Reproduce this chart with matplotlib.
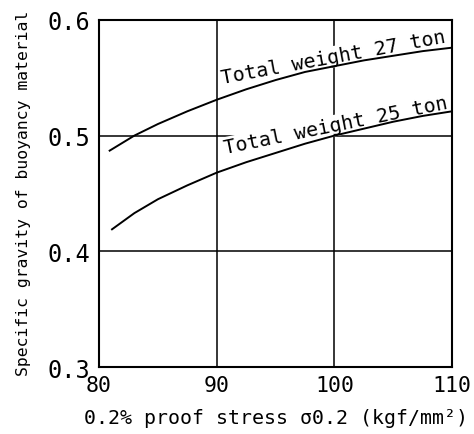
import matplotlib
matplotlib.use("Agg")
import matplotlib.pyplot as plt
import numpy as np

# data
stress_27 = [80.9, 83.0, 85.0, 87.5, 90.0, 92.5, 95.0, 97.5, 100.0, 102.5, 105.0, 107.5, 110.0]
grav_27   = [0.487, 0.500, 0.510, 0.521, 0.531, 0.540, 0.548, 0.555, 0.560, 0.565, 0.569, 0.573, 0.576]
stress_25 = [81.1, 83.0, 85.0, 87.5, 90.0, 92.5, 95.0, 97.5, 100.0, 102.5, 105.0, 107.5, 110.0]
grav_25   = [0.419, 0.433, 0.445, 0.457, 0.468, 0.477, 0.485, 0.493, 0.500, 0.506, 0.512, 0.517, 0.521]
label_27 = "Total weight 27 ton"
label_25 = "Total weight 25 ton"
xticks = [80, 90, 100, 110]
yticks = [0.3, 0.4, 0.5, 0.6]
ytick_labels = ["0.3", "0.4", "0.5", "0.6"]
xlabel = "0.2% proof stress σ0.2 (kgf/mm²)"
ylabel = "Specific gravity of buoyancy material"

mono = ["DejaVu Sans Mono"]
fig = plt.figure(figsize=(4.74, 4.35), dpi=100)
ax = fig.add_axes([0.209, 0.154, 0.745, 0.798])
ax.set_xlim(80, 110)
ax.set_ylim(0.3, 0.6)

for xv in [90, 100]:
    ax.axvline(xv, color="black", lw=1.1, zorder=1)
for yv in [0.4, 0.5]:
    ax.axhline(yv, color="black", lw=1.1, zorder=1)

ax.plot(stress_27, grav_27, color="black", lw=1.4, zorder=3)
ax.plot(stress_25, grav_25, color="black", lw=1.4, zorder=3)

bb = dict(facecolor="white", edgecolor="none", pad=0.8)
ax.text(90.5, 0.5455, label_27, rotation=10.5, rotation_mode="anchor",
        ha="left", va="baseline", fontsize=14.3, family=mono, bbox=bb, zorder=2)
ax.text(90.7, 0.4845, label_25, rotation=11.5, rotation_mode="anchor",
        ha="left", va="baseline", fontsize=14.3, family=mono, bbox=bb, zorder=2)

ax.set_xticks(xticks)
ax.set_xticklabels([str(t) for t in xticks], family=mono, fontsize=15.5)
ax.set_yticks(yticks)
ax.set_yticklabels(ytick_labels, family=mono, fontsize=17)
ax.tick_params(length=0, pad=6)
for s in ax.spines.values():
    s.set_linewidth(1.5)
    s.set_zorder(4)

ax.set_xlabel(xlabel, family=mono, fontsize=14.3, labelpad=9)
fig.text(0.05, 0.555, ylabel, rotation=90, ha="center", va="center",
         family=mono, fontsize=11.8)

fig.savefig("out.png", dpi=100)
